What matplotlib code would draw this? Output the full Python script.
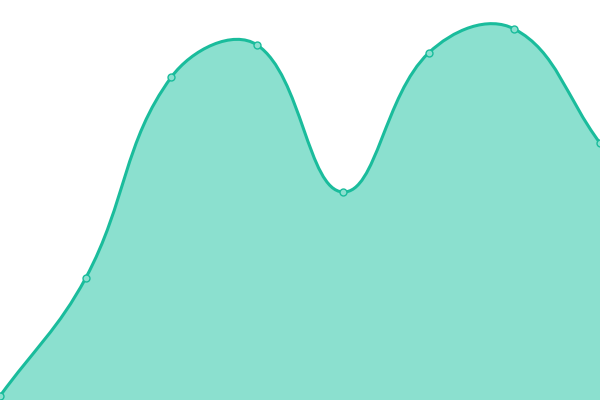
import matplotlib
matplotlib.use('Agg')
import matplotlib.pyplot as plt
from matplotlib.path import Path
from matplotlib.patches import PathPatch
import numpy as np

# data (height above the bottom edge)
labels = ['1', '2', '3', '4', '5', '6', '7', '8']
values = [4, 122, 323, 355, 208, 347, 371, 257]

line_col = '#1abc9c'
fill_col = '#8be0cf'
tension = 0.4

W, H = 600, 400
x = np.arange(len(values), dtype=float)
y = np.array(values, dtype=float)

# pixel space for the spline control points (chart.js style)
sx = W / (len(values) - 1)
px = x * sx
py = y.copy()

cps = []
n = len(values)
for i in range(n):
    p0 = (px[max(i - 1, 0)], py[max(i - 1, 0)])
    p1 = (px[i], py[i])
    p2 = (px[min(i + 1, n - 1)], py[min(i + 1, n - 1)])
    d01 = np.hypot(p1[0] - p0[0], p1[1] - p0[1])
    d12 = np.hypot(p2[0] - p1[0], p2[1] - p1[1])
    s01 = d01 / (d01 + d12) if d01 + d12 > 0 else 0
    s12 = d12 / (d01 + d12) if d01 + d12 > 0 else 0
    fa = tension * s01
    fb = tension * s12
    prev_cp = (p1[0] - fa * (p2[0] - p0[0]), p1[1] - fa * (p2[1] - p0[1]))
    next_cp = (p1[0] + fb * (p2[0] - p0[0]), p1[1] + fb * (p2[1] - p0[1]))
    cps.append((prev_cp, next_cp))

verts = [(px[0] / sx, py[0])]
codes = [Path.MOVETO]
for i in range(n - 1):
    c1 = cps[i][1]
    c2 = cps[i + 1][0]
    verts += [(c1[0] / sx, c1[1]), (c2[0] / sx, c2[1]), (x[i + 1], y[i + 1])]
    codes += [Path.CURVE4] * 3
line_path = Path(verts, codes)

fill_verts = verts + [(x[-1], 0), (x[0], 0), verts[0]]
fill_codes = codes + [Path.LINETO, Path.LINETO, Path.CLOSEPOLY]
fill_path = Path(fill_verts, fill_codes)

fig = plt.figure(figsize=(6, 4), dpi=100)
ax = fig.add_axes([0, 0, 1, 1])
ax.add_patch(PathPatch(fill_path, facecolor=fill_col, edgecolor='none'))
ax.add_patch(PathPatch(line_path, facecolor='none', edgecolor=line_col, lw=2.2))
ax.plot(x, y, 'o', ms=5, mfc=fill_col, mec=line_col, mew=1, clip_on=False)
ax.set_xlim(0, n - 1)
ax.set_ylim(0, 400)
ax.axis('off')
plt.savefig('out.png', dpi=100)
